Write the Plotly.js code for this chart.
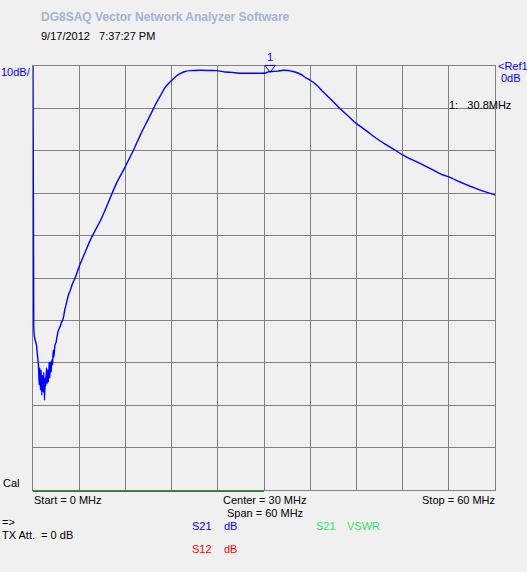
<!DOCTYPE html>
<html>
<head>
<meta charset="utf-8">
<script src="https://cdn.plot.ly/plotly-3.0.1.min.js"></script>
<style>
  html, body { margin: 0; padding: 0; background: #f0f0f0; }
  #chart { width: 527px; height: 572px; }
</style>
</head>
<body>
<div id="chart"></div>
<script>
// ---- data (S21 magnitude, dB vs frequency, MHz) ----
const freqMHz = [
  0, 0.10, 0.19, 0.32, 0.45, 0.58, 0.71, 0.80, 0.88, 0.97,
  1.06, 1.14, 1.23, 1.32, 1.40, 1.49, 1.58, 1.66, 1.75, 1.84,
  1.92, 2.01, 2.10, 2.18, 2.27, 2.36, 2.44, 2.53, 2.62, 2.72,
  2.85, 2.98, 3.11, 3.24, 3.43, 3.56, 3.69, 3.82, 3.99, 4.12,
  4.28, 4.43, 4.60, 4.86, 5.12, 5.51, 5.93, 6.38, 6.80, 7.45,
  8.10, 8.75, 9.62, 10.26, 10.91, 11.77, 12.41, 13.06, 13.93, 14.58,
  15.23, 15.87, 16.52, 17.04, 17.56, 18.08, 18.59, 19.11, 19.76, 20.41,
  21.71, 23.00, 23.91, 24.95, 25.85, 26.89, 28.18, 29.48, 30.26, 30.52,
  31.04, 31.81, 32.46, 33.11, 33.76, 34.40, 34.92, 35.44, 35.96, 36.83,
  37.68, 38.77, 39.85, 40.92, 42.01, 43.31, 44.60, 45.90, 46.97, 48.05,
  49.35, 50.64, 51.94, 53.23, 54.10, 55.39, 56.69, 57.99, 60.00
];
const s21dB = [
  0, -61.6, -63.9, -64.9, -65.8, -68.2, -70.5, -75.2, -71.2, -76.4,
  -71.7, -77.6, -72.9, -76.9, -72.2, -78.8, -73.6, -75.5, -71.2, -74.9,
  -71.7, -74.5, -69.8, -73.6, -69.8, -72.2, -69.3, -70.5, -67.0, -68.6,
  -65.8, -65.3, -63.9, -62.7, -61.8, -61.3, -60.4, -60.1, -59.0, -57.5,
  -56.4, -55.2, -54.0, -52.8, -51.4, -49.8, -47.6, -45.6, -43.8, -41.0,
  -38.7, -36.5, -32.9, -30.1, -27.4, -24.5, -22.2, -19.8, -16.3, -13.9,
  -11.6, -9.2, -7.1, -5.4, -4.2, -3.3, -2.4, -1.8, -1.3, -1.1,
  -1.0, -1.06, -1.1, -1.4, -1.5, -1.7, -1.7, -1.7, -1.65, -1.4,
  -1.3, -1.2, -1.0, -1.06, -1.3, -1.65, -2.1, -2.8, -3.3, -4.5,
  -6.1, -8.0, -10.0, -11.8, -13.6, -15.3, -17.1, -18.6, -19.8, -21.0,
  -22.2, -23.3, -24.5, -25.7, -26.2, -27.3, -28.3, -29.2, -30.4
];
const markerFreq = [30.8];
const markerLabel = ["1"];

// ---- texts ----
const titleText = "DG8SAQ Vector Network Analyzer Software";
const dateText = "9/17/2012&nbsp;&nbsp;&nbsp;7:37:27 PM";
const scaleText = "10dB/";
const refText = ["&lt;Ref1", "0dB"];
const markerReadout = "1:&nbsp;&nbsp;&nbsp;30.8MHz";
const startText = "Start = 0 MHz";
const centerText = "Center = 30 MHz";
const spanText = "Span = 60 MHz";
const stopText = "Stop = 60 MHz";
const calText = "Cal";
const arrowText = "=&gt;";
const txText = "TX Att.&nbsp;&nbsp;= 0 dB";
const legendBlue = ["S21", "dB"];
const legendGreen = ["S21", "VSWR"];
const legendRed = ["S12", "dB"];

// ---- layout geometry (pixels) ----
const W = 527, H = 572;
const ML = 33, MR = 32, MT = 66, MB = 82;
const PW = W - ML - MR, PH = H - MT - MB;
const px = x => (x - ML) / PW;
const py = y => (H - MB - y) / PH;

const FONT = "Liberation Sans, Arial, sans-serif";
const BLUE = "#0000ff", RED = "#ff0000", GREEN = "#30e060", BLACK = "#000000";

function txt(text, x, y, color, opts) {
  opts = opts || {};
  return {
    text: text, xref: "paper", yref: "paper",
    x: px(x), y: py(y),
    xanchor: opts.anchor || "left", yanchor: "middle",
    showarrow: false,
    font: { family: FONT, size: opts.size || 11, color: color },
    borderpad: 0
  };
}

const annotations = [
  txt("<b>" + titleText + "</b>", 40, 17, "#a0b5d2", { size: 12 }),
  txt(dateText, 40, 36, BLACK),
  txt(scaleText, 0, 72, BLUE),
  txt(refText[0], 497, 66, BLUE),
  txt(refText[1], 500, 78, BLUE),
  txt(markerReadout, 448, 105, BLACK),
  txt(calText, 2, 483, BLACK),
  txt(startText, 33, 500, BLACK),
  txt(centerText, 264, 500, BLACK, { anchor: "center" }),
  txt(spanText, 265, 513, BLACK, { anchor: "center" }),
  txt(stopText, 496, 500, BLACK, { anchor: "right" }),
  txt(arrowText, 1, 522, BLACK),
  txt(txText, 1, 535, BLACK),
  txt(legendBlue[0], 191, 526, BLUE),
  txt(legendBlue[1], 223, 526, BLUE),
  txt(legendGreen[0], 315, 526, GREEN),
  txt(legendGreen[1], 346, 526, GREEN),
  txt(legendRed[0], 191, 549, RED),
  txt(legendRed[1], 223, 549, RED),
  {
    text: markerLabel[0], xref: "x", yref: "paper",
    x: markerFreq[0], y: py(57), xanchor: "center", yanchor: "middle",
    showarrow: false, font: { family: FONT, size: 11, color: BLUE }, borderpad: 0
  }
];

const traces = [
  {
    x: freqMHz, y: s21dB, type: "scatter", mode: "lines",
    line: { color: BLUE, width: 1.4, shape: "spline", smoothing: 0.3 }, hoverinfo: "skip"
  },
  {
    x: markerFreq, y: [-0.4], type: "scatter", mode: "markers",
    cliponaxis: false,
    marker: { symbol: "triangle-down-open", size: 9, color: BLUE, line: { color: BLUE, width: 1 } },
    hoverinfo: "skip"
  }
];

const axisCommon = {
  showgrid: true, gridcolor: "#808080", gridwidth: 1,
  showline: true, linecolor: "#808080", linewidth: 1, mirror: true,
  zeroline: false, showticklabels: false, ticks: "",
  layer: "below traces", fixedrange: true
};

const layout = {
  width: W, height: H,
  margin: { l: ML, r: MR, t: MT, b: MB, pad: 0 },
  paper_bgcolor: "#f0f0f0", plot_bgcolor: "#f0f0f0",
  showlegend: false,
  xaxis: Object.assign({}, axisCommon, { range: [0, 60], dtick: 6, tick0: 0 }),
  yaxis: Object.assign({}, axisCommon, { range: [-100, 0], dtick: 10, tick0: 0 }),
  annotations: annotations,
  shapes: [
    {
      type: "line", xref: "x", yref: "paper",
      x0: 0, x1: 30, y0: py(491.3), y1: py(491.3),
      line: { color: "#2f7a2f", width: 1.5 }
    }
  ]
};

Plotly.newPlot("chart", traces, layout, { staticPlot: true, displayModeBar: false });
</script>
</body>
</html>
